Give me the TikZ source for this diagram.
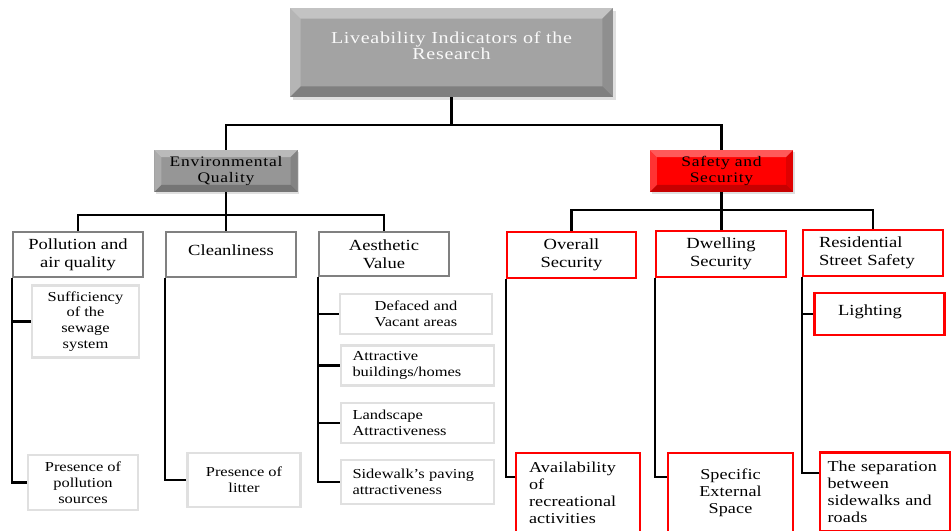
\documentclass[tikz,border=0pt]{standalone}
\usepackage{fontspec}
\setmainfont{Liberation Serif}[FakeStretch=1.2]
\usepackage{tikz}
\usetikzlibrary{shadows}
\definecolor{boxgray}{RGB}{128,128,128}
\definecolor{leafgray}{RGB}{224,224,224}
\definecolor{rootgray}{RGB}{163,163,163}
\definecolor{envgray}{RGB}{150,150,150}
\definecolor{safetext}{RGB}{30,0,0}

\begin{document}
\begin{tikzpicture}[x=0.02cm, y=-0.02cm,
    conn/.style={line width=1.2pt, black},
    bevel/.style={path picture={
        % light top and left, dark bottom and right
        \fill[white, opacity=0.35] (path picture bounding box.north west) -- (path picture bounding box.north east)
            -- ([shift={(-#1,-#1)}]path picture bounding box.north east) -- ([shift={(#1,-#1)}]path picture bounding box.north west) -- cycle;
        \fill[white, opacity=0.2] (path picture bounding box.north west) -- (path picture bounding box.south west)
            -- ([shift={(#1,#1)}]path picture bounding box.south west) -- ([shift={(#1,-#1)}]path picture bounding box.north west) -- cycle;
        \fill[black, opacity=0.12] (path picture bounding box.north east) -- (path picture bounding box.south east)
            -- ([shift={(-#1,#1)}]path picture bounding box.south east) -- ([shift={(-#1,-#1)}]path picture bounding box.north east) -- cycle;
        \fill[black, opacity=0.22] (path picture bounding box.south west) -- (path picture bounding box.south east)
            -- ([shift={(-#1,#1)}]path picture bounding box.south east) -- ([shift={(#1,#1)}]path picture bounding box.south west) -- cycle;
    }},
    rootbox/.style={bevel=6pt, fill=rootgray, text=white!95!gray, minimum width=6.46cm, minimum height=1.78cm,
        align=center, text depth=8pt, font=\fontsize{9.5}{9}\selectfont\addfontfeature{LetterSpace=4},
        drop shadow={opacity=0.25, shadow xshift=1.5pt, shadow yshift=-1.5pt}},
    headbox/.style={bevel=4pt, minimum width=2.87cm, minimum height=0.84cm, inner sep=1pt, align=center,
        font=\fontsize{8.3}{9.6}\selectfont\addfontfeature{LetterSpace=5},
        drop shadow={opacity=0.25, shadow xshift=1pt, shadow yshift=-1pt}},
    catbox/.style={draw=boxgray, line width=1.2pt, minimum width=2.6cm, minimum height=0.9cm, align=center,
        font=\fontsize{8.8}{10.2}\selectfont},
    redbox/.style={catbox, draw=red},
    leafbox/.style={draw=leafgray, line width=1.5pt, align=center, font=\fontsize{7.8}{9}\selectfont},
    redleaf/.style={draw=red, line width=1.2pt, minimum height=1.58cm, align=center,
        font=\fontsize{8.6}{9.7}\selectfont\addfontfeature{LetterSpace=1}}]

\useasboundingbox (0,0) rectangle (951,531);

% Root
\node[rootbox] (root) at (451.5,52.5) {Liveability Indicators of the\\Research};

% Main headings
\node[headbox, fill=envgray, text=black] (env) at (226,171) {Environmental\\Quality};
\node[headbox, fill=red, text=black] (safety) at (721.5,171) {Safety and\\Security};

% Environmental quality
\node[catbox] (poll) at (78,254.5) {Pollution and\\air quality};
\node[catbox, text depth=5pt] (clean) at (231,254.5) {Cleanliness};
\node[catbox, minimum height=0.88cm] (aest) at (384,254) {Aesthetic\\Value};

\node[leafbox, minimum width=2.14cm, minimum height=1.38cm] (suff) at (85.5,321.5) {Sufficiency\\of the\\sewage\\system};
\node[leafbox, minimum width=2.2cm, minimum height=1.1cm] (pres) at (83,482.5) {Presence of\\pollution\\sources};
\node[leafbox, minimum width=2.26cm, minimum height=1.08cm] (litter) at (244,480) {Presence of\\litter};

\node[leafbox, minimum width=3.04cm, minimum height=0.8cm] (deface) at (416,314) {Defaced and\\Vacant areas};
\node[leafbox, align=left, text width=2.6cm, inner xsep=0.23cm, minimum height=0.78cm] (attr) at (417.5,365.5) {Attractive\\buildings/homes};
\node[leafbox, align=left, text width=2.6cm, inner xsep=0.23cm, minimum height=0.8cm] (land) at (417.5,423) {Landscape\\Attractiveness};
\node[leafbox, align=left, text width=2.6cm, inner xsep=0.23cm, minimum height=0.88cm] (side) at (417.5,482) {Sidewalk’s paving\\attractiveness};

% Safety and security
\node[redbox, minimum width=2.58cm, minimum height=0.92cm] (overall) at (571.5,255) {Overall\\Security};
\node[redbox, minimum height=0.92cm] (dwell) at (721,254) {Dwelling\\Security};
\node[redbox, align=left, text width=2.16cm, inner xsep=0.32cm, minimum height=0.92cm] (resid) at (873,253) {Residential\\Street Safety};

\node[redbox, align=left, text width=1.66cm, inner xsep=0.32cm, minimum height=0.84cm, text depth=4pt] (light) at (879.5,314) {Lighting};

\node[redleaf, align=left, text width=1.96cm, inner xsep=0.26cm] (avail) at (578,492.5) {Availability\\of\\recreational\\activities};
\node[redleaf, minimum width=2.5cm] (spec) at (730.5,492.5) {Specific\\External\\Space};
\node[redleaf, align=left, text width=2.3cm, inner xsep=0.15cm] (sep) at (885,492) {The separation\\between\\sidewalks and\\roads};

% Tree lines
\draw[conn] (root.south) -- ++(0,28) -| (env.north);
\draw[conn] (root.south) -- ++(0,28) -| (safety.north);

\draw[conn] (env.south) -- ++(0,23) -| (poll.north);
\draw[conn] (env.south) -- ++(0,23) -| (aest.north);
\draw[conn] (env.south) -- (env.south |- clean.north);

\draw[conn] (safety.south) -- ++(0,18) -| (overall.north);
\draw[conn] (safety.south) -- ++(0,18) -| (resid.north);
\draw[conn] (safety.south) -- (safety.south |- dwell.north);

% Side branches
\draw[conn] (poll.south west) |- (pres.west);
\draw[conn] (poll.south west |- suff.west) -- (suff.west);
\draw[conn] (clean.south west) |- (litter.west);
\draw[conn] (aest.south west) |- (side.west);
\foreach \n in {deface, attr, land} {
    \draw[conn] (aest.south west |- \n.west) -- (\n.west);
}
\draw[conn] (overall.south west) |- (avail.166);
\draw[conn] (dwell.south west) |- (spec.166);
\draw[conn] (resid.south west) |- (sep.164);
\draw[conn] (resid.south west |- light.west) -- (light.west);
\end{tikzpicture}
\end{document}
